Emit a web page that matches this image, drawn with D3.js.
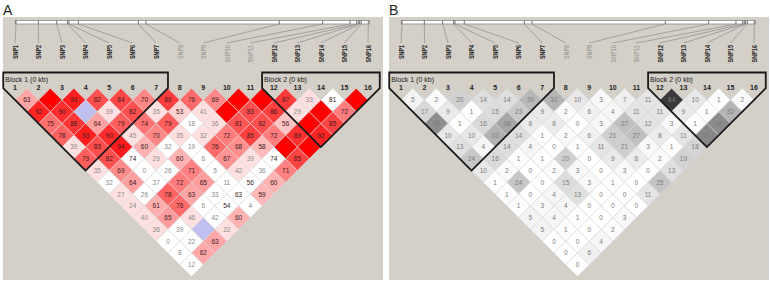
<!DOCTYPE html>
<html>
<head>
<meta charset="utf-8">
<script src="https://cdn.jsdelivr.net/npm/d3@7"></script>
<style>
  body { margin: 0; background: #fff; }
  svg text { font-family: "Liberation Sans", Arial, sans-serif; }
</style>
</head>
<body>
<div id="chart"></div>
<script>
const snpIds = d3.range(1, 17);
const snpNames = snpIds.map(i => 'SNP' + i);
const greyedSnps = ['SNP8', 'SNP9', 'SNP10', 'SNP11'];
// relative physical position of each SNP along the top bar
const snpPos = [0, 67, 122, 155, 159, 187, 367, 390, 790, 920, 1002, 1022, 1027, 1031, 1036, 1057];
const blocks = [
  { name: 'Block 1 (0 kb)', from: 1, to: 7 },
  { name: 'Block 2 (0 kb)', from: 12, to: 16 }
];

// Panel A: D' x100, one row per SNP distance (row 1 = neighbours). 100 = no number drawn
const dprimeA = [
  [63, 100, 93, 82, 84, 70, 86, 76, 69, 100, 100, 87, 33, 81, 100],
  [92, 90, 100, 39, 82, 35, 53, 41, 100, 83, 86, 29, 100, 72],
  [75, 88, 64, 79, 74, 79, 18, 36, 81, 82, 56, 100, 85],
  [78, 93, 90, 45, 70, 35, 32, 72, 85, 72, 89, 92],
  [39, 83, 94, 60, 32, 19, 76, 68, 58, 100, 100],
  [79, 82, 74, 29, 60, 6, 67, 39, 74, 85],
  [35, 69, 0, 26, 71, 5, 42, 36, 71],
  [32, 64, 37, 72, 65, 11, 56, 60],
  [27, 26, 78, 63, 33, 63, 59],
  [24, 61, 76, 6, 54, 4],
  [40, 65, 46, 42, 60],
  [36, 39, 100, 22],
  [0, 22, 63],
  [8, 62],
  [12]
];
// LOD >= 2 -> 'h', LOD < 2 -> 'l'
const lodA = [
  'hhhhhhhhhhhhhlh',
  'hhlhhhhhhhhhhh',
  'hhhhhhlhhhhhh',
  'hhhhhhhhhhhh',
  'hhhhllhhhhh',
  'hhlhhlhhlh',
  'hhllhlhlh',
  'lhlhhllh',
  'hlhhllh',
  'hhhlll',
  'hhhlh',
  'hllh',
  'llh',
  'lh',
  'l'
];

// Panel B: r^2 x100, same layout
const r2B = [
  [5, 2, 20, 14, 14, 30, 32, 10, 3, 7, 11, 84, 10, 1, 2],
  [17, 9, 1, 15, 23, 9, 2, 6, 4, 11, 11, 9, 1, 32],
  [48, 1, 16, 38, 8, 8, 0, 3, 27, 12, 3, 1, 49],
  [10, 10, 33, 14, 1, 2, 6, 21, 27, 8, 11, 51],
  [13, 4, 14, 4, 0, 1, 11, 21, 3, 1, 18],
  [24, 16, 1, 1, 20, 0, 9, 8, 2, 19],
  [10, 2, 0, 2, 3, 0, 3, 0, 13],
  [1, 24, 0, 15, 3, 1, 0, 25],
  [1, 0, 4, 13, 0, 0, 11],
  [1, 3, 4, 0, 0, 0],
  [5, 4, 1, 0, 3],
  [5, 1, 0, 2],
  [0, 0, 4],
  [0, 6],
  [0]
];

const width = 770;
const height = 283;

const svg = d3.select('#chart').append('svg')
  .attr('width', width)
  .attr('height', height);

function colorA(v, lod) {
  if (lod === 'h') {
    if (v >= 100) return 'rgb(255,0,0)';
    if (v < 50) return 'rgb(255,224,224)';
    const g = Math.round(446 * (1 - v / 100));
    return `rgb(255,${g},${g})`;
  }
  return v >= 100 ? 'rgb(192,192,240)' : '#ffffff';
}

const greyB = d3.scaleLinear().domain([0, 100]).range([255, 20]);
function colorB(v) {
  const g = Math.round(greyB(v));
  return `rgb(${g},${g},${g})`;
}

function drawPanel(dx, letter, rows, fill, textFill, showValue) {
  const g = svg.append('g').attr('transform', `translate(${dx},0)`);

  const x = d3.scalePoint()
    .domain(snpIds)
    .range([15, 368]);
  const h = x.step() / 2;
  const rowY = d3.scaleLinear()
    .domain([1, 15])
    .range([100, 100 + 14 * h]);
  const xPhys = d3.scaleLinear()
    .domain([0, 1057])
    .range([16, 368.3]);

  g.append('rect')
    .attr('x', 3).attr('y', 17)
    .attr('width', 380).attr('height', 263)
    .attr('fill', '#d4d0c8');

  g.append('text')
    .attr('x', 3).attr('y', 15)
    .attr('font-size', 14)
    .attr('fill', '#222')
    .text(letter);

  // physical map bar
  g.append('rect')
    .attr('x', 15.5).attr('y', 20.5)
    .attr('width', 354).attr('height', 3.5)
    .attr('fill', '#fff')
    .attr('stroke', '#8a8a8a')
    .attr('stroke-width', 0.8);

  g.selectAll('.tick-mark').data(snpIds).enter().append('line')
    .attr('class', 'tick-mark')
    .attr('x1', i => xPhys(snpPos[i - 1])).attr('x2', i => xPhys(snpPos[i - 1]))
    .attr('y1', 20.5).attr('y2', 24)
    .attr('stroke', '#555')
    .attr('stroke-width', 0.8);

  g.selectAll('.link').data(snpIds).enter().append('line')
    .attr('class', 'link')
    .attr('x1', i => xPhys(snpPos[i - 1]))
    .attr('y1', 24)
    .attr('x2', i => x(i))
    .attr('y2', 43)
    .attr('stroke', '#8c8c8c')
    .attr('stroke-width', 0.7);

  g.selectAll('.snp-label').data(snpIds).enter().append('text')
    .attr('class', 'snp-label')
    .attr('transform', i => `translate(${x(i) + 2.8},45) rotate(-90)`)
    .attr('text-anchor', 'end')
    .attr('font-size', 8)
    .attr('font-weight', i => greyedSnps.includes(snpNames[i - 1]) ? 'normal' : 'bold')
    .attr('fill', i => greyedSnps.includes(snpNames[i - 1]) ? '#8c8c8c' : '#222')
    .attr('textLength', i => i < 10 ? 14 : 17.5)
    .attr('lengthAdjust', 'spacingAndGlyphs')
    .text(i => snpNames[i - 1]);

  g.selectAll('.block-name').data(blocks).enter().append('text')
    .attr('class', 'block-name')
    .attr('x', b => x(b.from) - h + 2)
    .attr('y', 82)
    .attr('font-size', 7)
    .attr('fill', '#222')
    .text(b => b.name);

  g.selectAll('.snp-num').data(snpIds).enter().append('text')
    .attr('class', 'snp-num')
    .attr('x', i => x(i))
    .attr('y', 90)
    .attr('text-anchor', 'middle')
    .attr('font-size', 7)
    .attr('font-weight', 'bold')
    .attr('fill', '#222')
    .text(i => i);

  const cells = [];
  rows.forEach((row, r) => {
    row.forEach((v, k) => {
      cells.push({ i: k + 1, j: k + 2 + r, d: r + 1, k: k, v: v });
    });
  });

  const diamond = c => {
    const cx = (x(c.i) + x(c.j)) / 2;
    const cy = rowY(c.d);
    return `M${cx},${cy - h}L${cx + h},${cy}L${cx},${cy + h}L${cx - h},${cy}Z`;
  };

  g.selectAll('.cell').data(cells).enter().append('path')
    .attr('class', 'cell')
    .attr('d', diamond)
    .attr('fill', fill)
    .attr('stroke', '#d8d8d8')
    .attr('stroke-width', 0.6);

  g.selectAll('.cell-label').data(cells.filter(showValue)).enter().append('text')
    .attr('class', 'cell-label')
    .attr('x', c => (x(c.i) + x(c.j)) / 2)
    .attr('y', c => rowY(c.d) + 2.4)
    .attr('text-anchor', 'middle')
    .attr('font-size', 6.5)
    .attr('fill', textFill)
    .text(c => c.v);

  // haplotype block outlines
  const outline = b => {
    const left = x(b.from) - h;
    const right = x(b.to) + h;
    const bx = (x(b.from) + x(b.to)) / 2;
    const by = rowY(b.to - b.from) + h;
    return `M${bx},${by}L${left},${by - (bx - left)}L${left},72.5L${right},72.5L${right},${by - (right - bx)}Z`;
  };

  g.selectAll('.block').data(blocks).enter().append('path')
    .attr('class', 'block')
    .attr('d', outline)
    .attr('fill', 'none')
    .attr('stroke', '#1a1a1a')
    .attr('stroke-width', 1.8)
    .attr('stroke-linejoin', 'miter');
}

drawPanel(0, 'A', dprimeA,
  c => colorA(c.v, lodA[c.d - 1][c.k]),
  c => c.v < 50 ? '#8a8a8a' : '#3a1a1a',
  c => c.v < 100);

drawPanel(386, 'B', r2B,
  c => colorB(c.v),
  c => '#7c7c7c',
  c => true);
</script>
</body>
</html>
